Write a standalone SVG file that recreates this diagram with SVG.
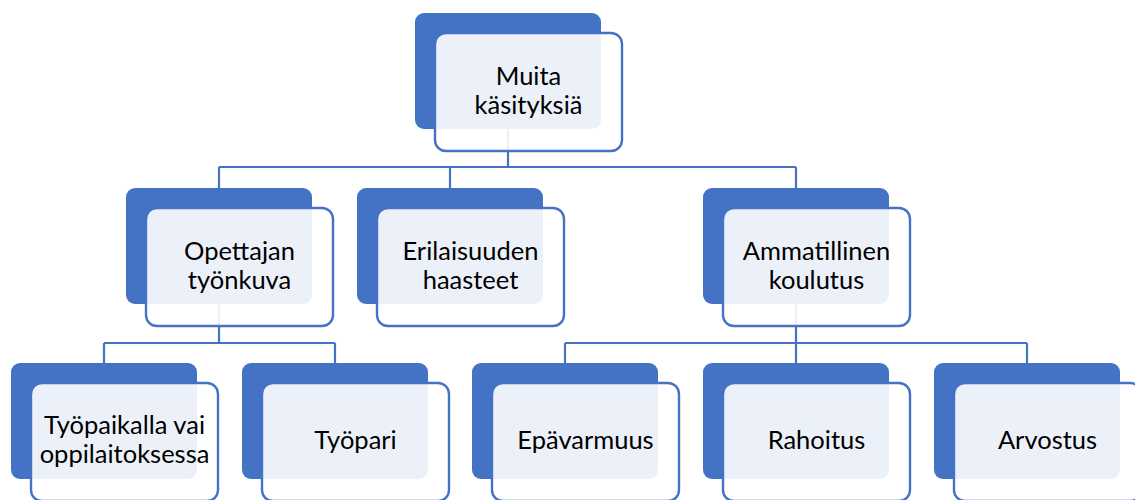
<svg xmlns="http://www.w3.org/2000/svg" width="1135" height="500" viewBox="0 0 1135 500">
  <style>
    .conn { fill: none; stroke: #4472C4; stroke-width: 2.2; }
    .back { fill: #4472C4; }
    .front { fill: #FFFFFF; fill-opacity: 0.9; stroke: #4472C4; stroke-width: 2.4; }
    .label { font-family: Lato, "Liberation Sans", sans-serif; font-size: 25.5px; fill: #000000; text-anchor: middle; }
  </style>
  <rect width="1135" height="500" fill="#FFFFFF"/>

  <!-- Connectors -->
  <g id="connectors">
    <path class="conn" d="M508,129 V167 M219,167 H796 M219,167 V188 M450,167 V188 M796,167 V188"/>
    <path class="conn" d="M219,304 V343 M104,343 H335 M104,343 V363 M335,343 V363"/>
    <path class="conn" d="M796,304 V343 M565,343 H1027 M565,343 V363 M796,343 V363 M1027,343 V363"/>
  </g>

  <!-- Level 1 -->
  <g id="node-muita">
    <rect class="back" x="415" y="13" width="186" height="116" rx="9"/>
    <rect class="front" x="435" y="33" width="187" height="118" rx="11"/>
    <text class="label" x="528.5" y="85">Muita</text>
    <text class="label" x="528.5" y="114">käsityksiä</text>
  </g>

  <!-- Level 2 -->
  <g id="node-opettajan">
    <rect class="back" x="126" y="188" width="186" height="116" rx="9"/>
    <rect class="front" x="146" y="208" width="187" height="118" rx="11"/>
    <text class="label" x="239.5" y="260">Opettajan</text>
    <text class="label" x="239.5" y="289">työnkuva</text>
  </g>
  <g id="node-erilaisuuden">
    <rect class="back" x="357" y="188" width="186" height="116" rx="9"/>
    <rect class="front" x="377" y="208" width="187" height="118" rx="11"/>
    <text class="label" x="470.5" y="260">Erilaisuuden</text>
    <text class="label" x="470.5" y="289">haasteet</text>
  </g>
  <g id="node-ammatillinen">
    <rect class="back" x="703" y="188" width="186" height="116" rx="9"/>
    <rect class="front" x="723" y="208" width="187" height="118" rx="11"/>
    <text class="label" x="816.5" y="260">Ammatillinen</text>
    <text class="label" x="816.5" y="289">koulutus</text>
  </g>

  <!-- Level 3 -->
  <g id="node-tyopaikalla">
    <rect class="back" x="11" y="363" width="186" height="116" rx="9"/>
    <rect class="front" x="31" y="383" width="187" height="118" rx="11"/>
    <text class="label" x="124.5" y="434">Työpaikalla vai</text>
    <text class="label" x="124.5" y="463">oppilaitoksessa</text>
  </g>
  <g id="node-tyopari">
    <rect class="back" x="242" y="363" width="186" height="116" rx="9"/>
    <rect class="front" x="262" y="383" width="187" height="118" rx="11"/>
    <text class="label" x="355.5" y="449">Työpari</text>
  </g>
  <g id="node-epavarmuus">
    <rect class="back" x="472" y="363" width="186" height="116" rx="9"/>
    <rect class="front" x="492" y="383" width="187" height="118" rx="11"/>
    <text class="label" x="585.5" y="449">Epävarmuus</text>
  </g>
  <g id="node-rahoitus">
    <rect class="back" x="703" y="363" width="186" height="116" rx="9"/>
    <rect class="front" x="723" y="383" width="187" height="118" rx="11"/>
    <text class="label" x="816.5" y="449">Rahoitus</text>
  </g>
  <g id="node-arvostus">
    <rect class="back" x="934" y="363" width="186" height="116" rx="9"/>
    <rect class="front" x="954" y="383" width="187" height="118" rx="11"/>
    <text class="label" x="1047.5" y="449">Arvostus</text>
  </g>
</svg>
